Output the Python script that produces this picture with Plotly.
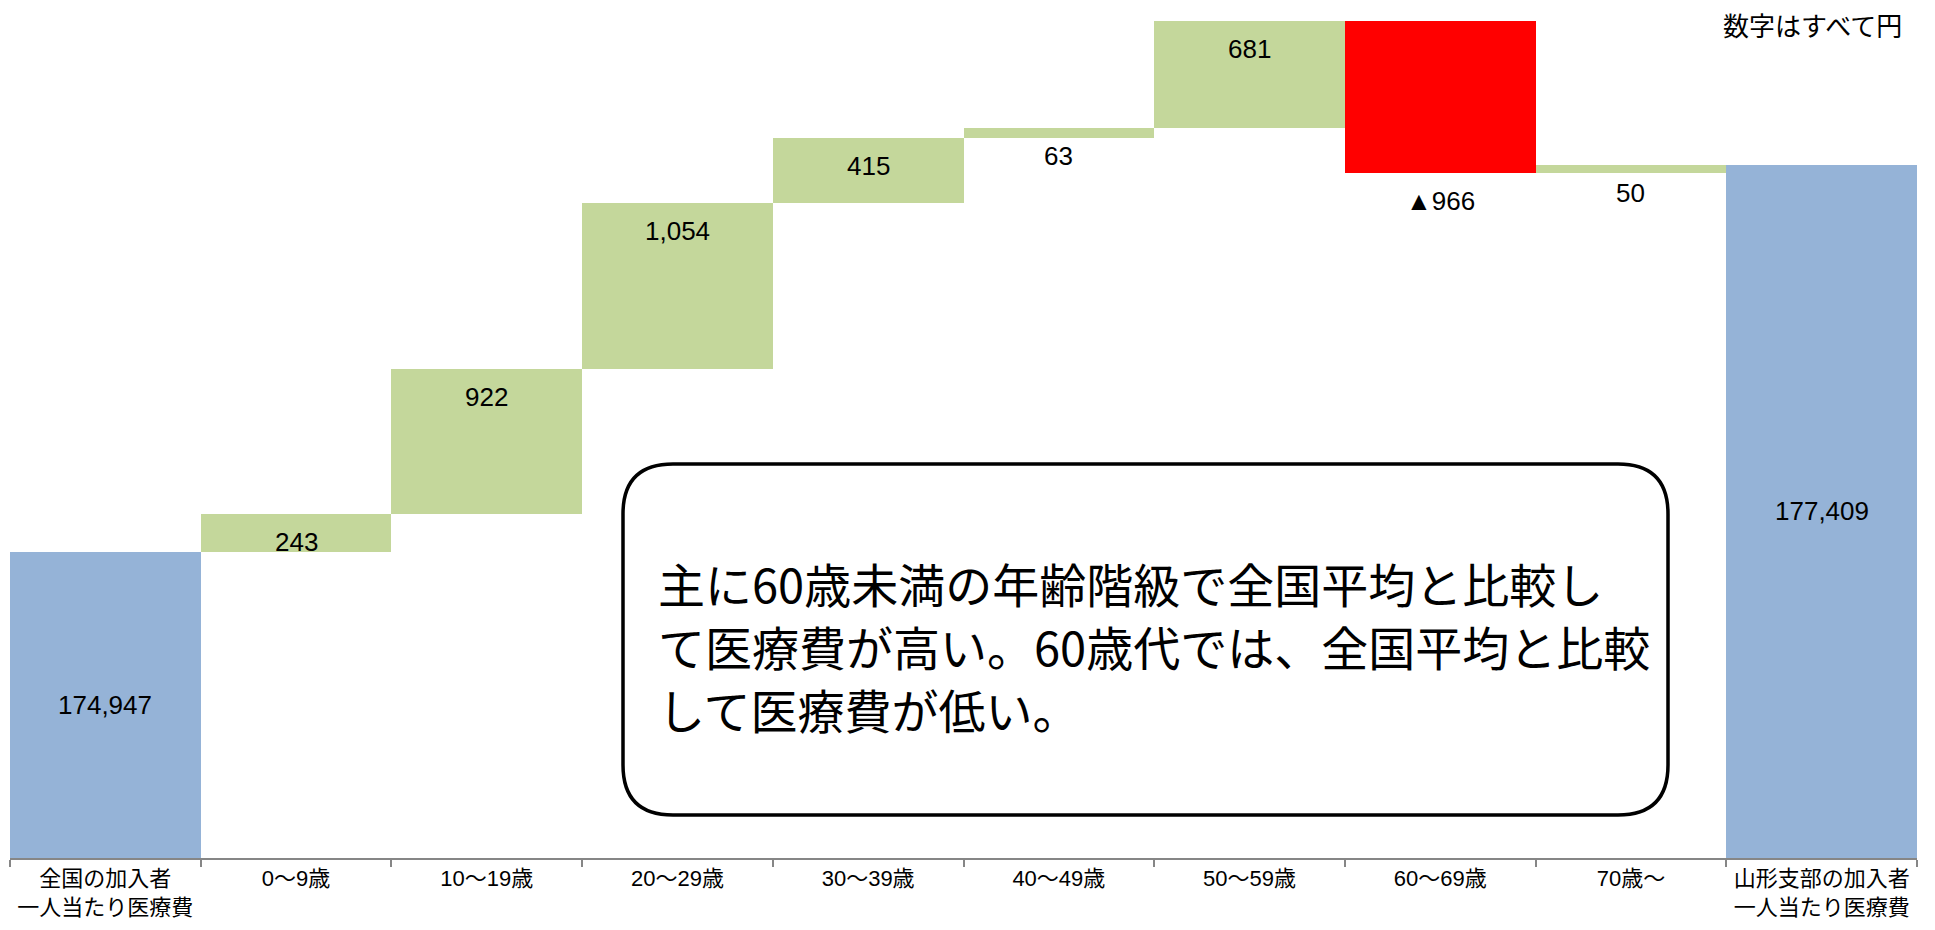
import plotly.graph_objects as go

categories = ["全国の加入者<br>一人当たり医療費", "0～9歳", "10～19歳", "20～29歳", "30～39歳",
              "40～49歳", "50～59歳", "60～69歳", "70歳～", "山形支部の加入者<br>一人当たり医療費"]
values = [174947, 243, 922, 1054, 415, 63, 681, -966, 50, 177409]
measures = ["absolute"] + ["relative"] * 8 + ["total"]
axis_min = 173000
axis_max = 178330
unit_note = "数字はすべて円"
box_lines = ["主に60歳未満の年齢階級で全国平均と比較し",
             "て医療費が高い。60歳代では、全国平均と比較",
             "して医療費が低い。"]

GREEN = "#C4D79B"
RED = "#FF0000"
BLUE = "#95B3D7"
NUM_FONT = "Liberation Sans, Arial, Noto Sans CJK JP"
JP_FONT = "Liberation Sans, Noto Sans CJK JP"

fig = go.Figure(go.Waterfall(
    x=categories, y=values, measure=measures,
    increasing=dict(marker=dict(color=GREEN, line=dict(width=0))),
    decreasing=dict(marker=dict(color=RED, line=dict(width=0))),
    totals=dict(marker=dict(color=BLUE, line=dict(width=0))),
    connector=dict(visible=False),
    textinfo="none", hoverinfo="skip",
))

def fmt(v):
    return ("▲" if v < 0 else "") + f"{abs(v):,}"

annotations = []
running = 0
for cat, v, m in zip(categories, values, measures):
    if m == "absolute":
        running = v
        annotations.append(dict(x=cat, y=(axis_min + v) / 2, text=fmt(v), yanchor="middle", yshift=0))
    elif m == "total":
        annotations.append(dict(x=cat, y=(axis_min + running) / 2, text=fmt(running), yanchor="middle", yshift=0))
    else:
        running += v
        annotations.append(dict(x=cat, y=running, text=fmt(v), yanchor="middle", yshift=-28))
for a in annotations:
    a.update(xref="x", yref="y", showarrow=False, font=dict(family=NUM_FONT, size=26, color="black"))

# layout geometry (pixels)
L, R, T, B = 10, 18, 20, 72
W, H = 1935 - L - R, 930 - T - B
def px(x):
    return (x - L) / W
def py(y):
    return (930 - B - y) / H

bx0, bx1, by0, by1, r = 623, 1668, 464, 815, 50
X0, X1, Y0, Y1 = px(bx0), px(bx1), py(by0), py(by1)
rx, ry = r / W, r / H
path = (f"M {X0+rx},{Y0} L {X1-rx},{Y0} Q {X1},{Y0} {X1},{Y0-ry} "
        f"L {X1},{Y1+ry} Q {X1},{Y1} {X1-rx},{Y1} L {X0+rx},{Y1} Q {X0},{Y1} {X0},{Y1+ry} "
        f"L {X0},{Y0-ry} Q {X0},{Y0} {X0+rx},{Y0} Z")

line_y = [582, 645, 708]
for txt, yy in zip(box_lines, line_y):
    annotations.append(dict(xref="paper", yref="paper", x=px(656), y=py(yy), xanchor="left",
                            yanchor="middle", text=txt, showarrow=False, align="left",
                            font=dict(family="Noto Sans CJK JP", size=47, color="black")))

annotations.append(dict(xref="paper", yref="paper", x=px(1904), y=py(25), xanchor="right",
                        yanchor="middle", text=unit_note, showarrow=False,
                        font=dict(family="Noto Sans CJK JP", size=26, color="black")))

fig.update_layout(
    width=1935, height=930,
    margin=dict(l=L, r=R, t=T, b=B, autoexpand=False),
    paper_bgcolor="white", plot_bgcolor="white",
    waterfallgap=0,
    showlegend=False,
    shapes=[dict(type="path", path=path, xref="paper", yref="paper",
                 line=dict(color="black", width=3.5), fillcolor="white", layer="above")],
    annotations=annotations,
    xaxis=dict(type="category", showline=True, linecolor="#868686", linewidth=2, automargin=False,
               ticks="outside", tickson="boundaries", ticklen=7, tickcolor="#868686", tickwidth=2,
               tickfont=dict(family=JP_FONT, size=22, color="black"), showgrid=False),
    yaxis=dict(range=[axis_min, axis_max], visible=False, showgrid=False, zeroline=False,
               automargin=False),
)

fig.write_html("out.html", config={"displayModeBar": False},
               post_script="document.body.style.margin='0';document.body.style.overflow='hidden';")
